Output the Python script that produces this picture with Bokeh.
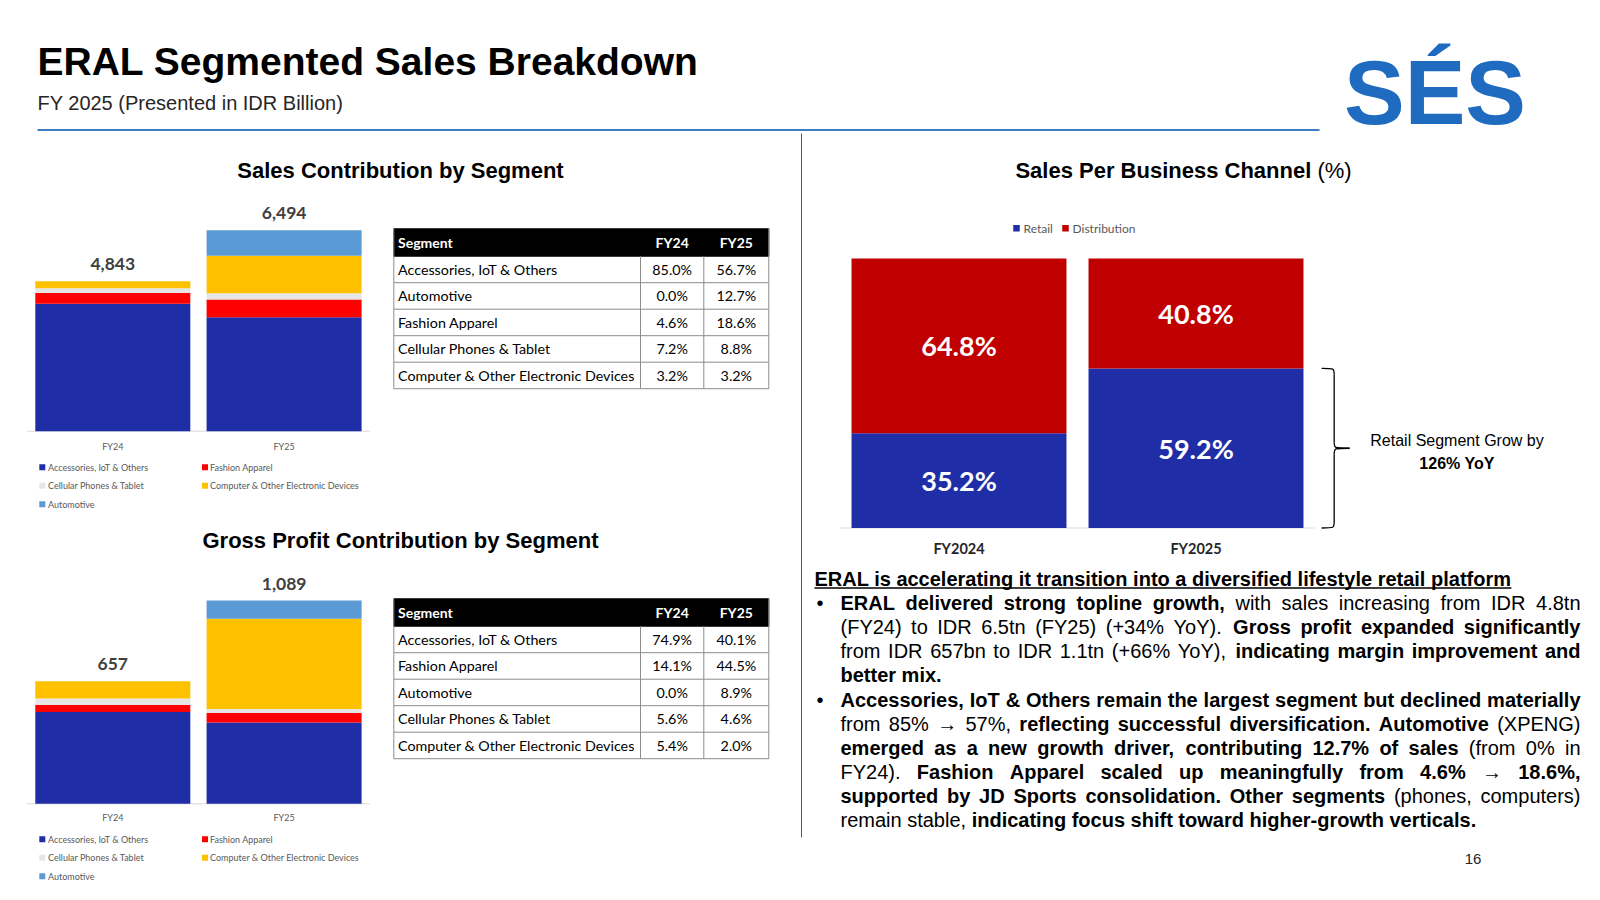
from bokeh.plotting import figure
from bokeh.models import Range1d, ColumnDataSource
from bokeh.core.properties import value
from bokeh.embed import file_html
from bokeh.resources import INLINE

# ---------------- data ----------------
years_short = ["FY24", "FY25"]
years_long = ["FY2024", "FY2025"]

seg_names = ["Accessories, IoT & Others", "Fashion Apparel", "Cellular Phones & Tablet",
             "Computer & Other Electronic Devices", "Automotive"]
seg_colors = ["#1F2DA6", "#FF0000", "#E7E6E6", "#FFC000", "#5B9BD5"]

# Sales (IDR bn), stacked bottom -> top in seg_names order
sales_acc = [4116, 3682]
sales_fashion = [349, 571]
sales_cell = [155, 208]
sales_comp = [223, 1208]
sales_auto = [0, 825]

# Gross profit (IDR bn)
gp_acc = [492, 436]
gp_fashion = [37, 50]
gp_cell = [35, 22]
gp_comp = [93, 484]
gp_auto = [0, 97]

tbl1_segments = ["Accessories, IoT & Others", "Automotive", "Fashion Apparel",
                 "Cellular Phones & Tablet", "Computer & Other Electronic Devices"]
tbl1_fy24 = [85.0, 0.0, 4.6, 7.2, 3.2]
tbl1_fy25 = [56.7, 12.7, 18.6, 8.8, 3.2]

tbl2_segments = ["Accessories, IoT & Others", "Fashion Apparel", "Automotive",
                 "Cellular Phones & Tablet", "Computer & Other Electronic Devices"]
tbl2_fy24 = [74.9, 14.1, 0.0, 5.6, 5.4]
tbl2_fy25 = [40.1, 44.5, 8.9, 4.6, 2.0]

channel_names = ["Retail", "Distribution"]
channel_colors = ["#1F2DA6", "#C00000"]
channel_retail = [35.2, 59.2]
channel_distribution = [64.8, 40.8]
retail_growth_yoy = 126

# ---------------- text metrics (Arial / Liberation Sans, per 1000 em) ----------------
def _build(groups):
    d = {}
    for w, chars in groups.items():
        for c in chars:
            d[c] = w
    return d

RW = _build({278: " !,./:;If[]t", 222: "ijl", 333: "()-r", 500: "cksvxyzJ",
             556: "abdeghnopqu0123456789L?$#", 584: "+=<>", 611: "FTZ",
             667: "ABEKPSVXY&", 722: "CDHNRUw", 778: "GOQ", 833: "Mm",
             889: "%", 944: "W", 1000: "\u2192"})
BW = _build({278: " !,./:;Iijl", 333: "()-ft", 389: "r", 500: "z",
             556: "acekvsxyJ0123456789", 584: "+", 611: "bdghnopquFTZL",
             667: "EPSVXY", 722: "ABCDHKNRU&", 778: "GOQw", 833: "M",
             889: "m%", 944: "W", 1000: "\u2192"})


def tw(s, bold, size):
    t = BW if bold else RW
    return sum(t.get(c, 556) for c in s) * size / 1000.0


# ---------------- canvas ----------------
W, H = 1600, 900
p = figure(width=W, height=H, x_range=Range1d(0, W), y_range=Range1d(H, 0),
           output_backend="svg", toolbar_location=None,
           x_axis_location=None, y_axis_location=None, min_border=0)
p.outline_line_color = None
p.background_fill_color = "white"
p.border_fill_color = "white"
p.xgrid.visible = False
p.ygrid.visible = False


def xr_map(d0, px0, d1, px1):
    k = (d1 - d0) / (px1 - px0)
    s = d0 - k * px0
    return Range1d(s, s + k * W)


def yr_map(d0, py0, d1, py1):
    h0, h1 = H - py0, H - py1
    k = (d1 - d0) / (h1 - h0)
    s = d0 - k * h0
    return Range1d(s, s + k * H)


SALES_PPU = 0.03094
GP_PPU = 0.1866
CH_PPU = 2.695
SALES_BASE, GP_BASE, CH_BASE = 430.7, 803.3, 527.5

p.extra_x_ranges = {"lx": xr_map(0, 112.3, 1, 283.6), "rx": xr_map(0, 958.5, 1, 1195.5)}
p.extra_y_ranges = {
    "sales": yr_map(0, SALES_BASE, 1000, SALES_BASE - 1000 * SALES_PPU),
    "gp": yr_map(0, GP_BASE, 1000, GP_BASE - 1000 * GP_PPU),
    "ch": yr_map(0, CH_BASE, 100, CH_BASE - 100 * CH_PPU),
}

ARIAL = value("Liberation Sans")
CAL = value("Lato")

# ---------------- header ----------------
p.text(x=[37], y=[61], text=["ERAL Segmented Sales Breakdown"], text_font=ARIAL,
       text_font_size="39px", text_font_style="bold", text_color="#000000",
       text_baseline="middle")
p.text(x=[37], y=[102], text=["FY 2025 (Presented in IDR Billion)"], text_font=ARIAL,
       text_font_size="20px", text_color="#262626", text_baseline="middle")
p.segment(x0=[37], y0=[129.5], x1=[1319], y1=[129.5], line_color="#3F7CC2", line_width=2)
p.text(x=[1434.5], y=[92], text=["SÉS"], text_font=ARIAL, text_font_size="91px",
       text_font_style="bold", text_color="#1F6BBF", text_align="center",
       text_baseline="middle")
p.segment(x0=[801], y0=[133], x1=[801], y1=[837], line_color="#595959", line_width=1)
p.text(x=[1472.5], y=[858], text=["16"], text_font=ARIAL, text_font_size="15px",
       text_color="#262626", text_align="center", text_baseline="middle")

# ---------------- chart titles ----------------
for t, cy in [("Sales Contribution by Segment", 170), ("Gross Profit Contribution by Segment", 539.5)]:
    p.text(x=[400], y=[cy], text=[t], text_font=ARIAL, text_font_size="22px",
           text_font_style="bold", text_color="#000000", text_align="center",
           text_baseline="middle")
t_b, t_r = "Sales Per Business Channel", "(%)"
wb, ws, wr = tw(t_b, True, 22), tw(" ", False, 22), tw(t_r, False, 22)
x_start = 1183 - (wb + ws + wr) / 2
p.text(x=[x_start], y=[170], text=[t_b], text_font=ARIAL, text_font_size="22px",
       text_font_style="bold", text_color="#000000", text_baseline="middle")
p.text(x=[x_start + wb + ws], y=[170], text=[t_r], text_font=ARIAL, text_font_size="22px",
       text_color="#000000", text_baseline="middle")


# ---------------- segment stacked charts ----------------
def segment_chart(series, yname, ppu, cat_off, legend_y0):
    keys = ["s%d" % i for i in range(len(series))]
    data = {"x": [0, 1]}
    for k, v in zip(keys, series):
        data[k] = v
    src = ColumnDataSource(data)
    p.segment(x0=[-0.5], y0=[0], x1=[1.5], y1=[0], x_range_name="lx", y_range_name=yname,
              line_color="#D9D9D9", line_width=1)
    p.vbar_stack(keys, x="x", width=0.905, color=seg_colors, source=src,
                 x_range_name="lx", y_range_name=yname, line_color=None)
    totals = [sum(v[i] for v in series) for i in range(2)]
    p.text(x=[0, 1], y=[t + 17.0 / ppu for t in totals], text=["{:,}".format(t) for t in totals],
           x_range_name="lx", y_range_name=yname, text_font=CAL, text_font_size="17.5px",
           text_font_style="bold", text_color="#404040", text_align="center",
           text_baseline="middle")
    p.text(x=[0, 1], y=[-cat_off / ppu] * 2, text=years_short, x_range_name="lx",
           y_range_name=yname, text_font=CAL, text_font_size="9px", text_color="#595959",
           text_align="center", text_baseline="middle")
    # legend (2 columns, row-major)
    mx, my, tx, ty = [], [], [], []
    for i, name in enumerate(seg_names):
        r, c = divmod(i, 2)
        yy = legend_y0 + r * 18.5
        mx.append([41.8, 204.5][c])
        my.append(yy)
        tx.append([47.5, 209.5][c])
        ty.append(yy)
    p.scatter(x=mx, y=my, marker="square", size=6, color=seg_colors, line_color=None)
    p.text(x=tx, y=ty, text=seg_names, text_font=CAL, text_font_size="9px",
           text_color="#595959", text_baseline="middle")


segment_chart([sales_acc, sales_fashion, sales_cell, sales_comp, sales_auto], "sales",
              SALES_PPU, 15.0, 466.7)
segment_chart([gp_acc, gp_fashion, gp_cell, gp_comp, gp_auto], "gp", GP_PPU, 14.0, 838.7)


# ---------------- tables ----------------
def table(top, segs, a, b):
    x0, c1, c2, x1 = 393.3, 640.0, 703.3, 768.3
    hh, rh = 27.4, 26.5
    n = len(segs)
    bottom = top + hh + n * rh
    p.quad(left=[x0], right=[x1], top=[top], bottom=[top + hh], color="#000000")
    hy = [top + hh + k * rh for k in range(1, n + 1)]
    p.segment(x0=[x0] * n, x1=[x1] * n, y0=hy, y1=hy, line_color="#8C8C8C", line_width=1)
    vx = [x0, c1, c2, x1]
    p.segment(x0=vx, x1=vx, y0=[top + hh] * 4, y1=[bottom] * 4, line_color="#8C8C8C",
              line_width=1)
    p.segment(x0=[x0, x1], x1=[x0, x1], y0=[top] * 2, y1=[top + hh] * 2,
              line_color="#8C8C8C", line_width=1)
    hc = top + hh / 2
    p.text(x=[397.5], y=[hc], text=["Segment"], text_font=CAL, text_font_size="14px",
           text_font_style="bold", text_color="white", text_baseline="middle")
    p.text(x=[(c1 + c2) / 2, (c2 + x1) / 2], y=[hc, hc], text=["FY24", "FY25"], text_font=CAL,
           text_font_size="14px", text_font_style="bold", text_color="white",
           text_align="center", text_baseline="middle")
    ry = [top + hh + (k + 0.5) * rh for k in range(n)]
    p.text(x=[397.5] * n, y=ry, text=segs, text_font=CAL, text_font_size="14.3px",
           text_color="#000000", text_baseline="middle")
    p.text(x=[(c1 + c2) / 2] * n, y=ry, text=["%.1f%%" % v for v in a], text_font=CAL,
           text_font_size="14.3px", text_color="#000000", text_align="center",
           text_baseline="middle")
    p.text(x=[(c2 + x1) / 2] * n, y=ry, text=["%.1f%%" % v for v in b], text_font=CAL,
           text_font_size="14.3px", text_color="#000000", text_align="center",
           text_baseline="middle")


table(228.3, tbl1_segments, tbl1_fy24, tbl1_fy25)
table(598.3, tbl2_segments, tbl2_fy24, tbl2_fy25)

# ---------------- channel chart ----------------
csrc = ColumnDataSource(dict(x=[0, 1], retail=channel_retail, dist=channel_distribution))
p.segment(x0=[-0.5], y0=[0], x1=[1.5], y1=[0], x_range_name="rx", y_range_name="ch",
          line_color="#D9D9D9", line_width=1)
p.vbar_stack(["retail", "dist"], x="x", width=0.907, color=channel_colors, source=csrc,
             x_range_name="rx", y_range_name="ch", line_color=None)
lab_y = [r / 2 for r in channel_retail] + [r + d / 2 for r, d in zip(channel_retail, channel_distribution)]
lab_t = ["%.1f%%" % v for v in channel_retail + channel_distribution]
p.text(x=[0, 1, 0, 1], y=lab_y, text=lab_t, x_range_name="rx", y_range_name="ch",
       text_font=CAL, text_font_size="27px", text_font_style="bold", text_color="white",
       text_align="center", text_baseline="middle")
p.text(x=[0, 1], y=[-20.8 / CH_PPU] * 2, text=years_long, x_range_name="rx", y_range_name="ch",
       text_font=CAL, text_font_size="14.5px", text_font_style="bold", text_color="#262626",
       text_align="center", text_baseline="middle")
# legend
p.scatter(x=[1016, 1065], y=[227.7, 227.7], marker="square", size=6.5, color=channel_colors,
          line_color=None)
p.text(x=[1023, 1072], y=[227.7, 227.7], text=channel_names, text_font=CAL,
       text_font_size="12px", text_color="#595959", text_baseline="middle")

# brace along FY2025 retail bar
yt, yb = channel_retail[1], 0.0
ym = (yt + yb) / 2
r = 6.0 / CH_PPU
xa, xs, xt = 1.53, 1.583, 1.648
p.bezier(x0=[xa, xs, xt, xs], y0=[yt, ym + r, ym, yb + r],
         x1=[xs, xt, xs, xa], y1=[yt - r, ym, ym - r, yb],
         cx0=[xs, xs, xs, xs], cy0=[yt, ym, ym, yb],
         cx1=[xs, xs, xs, xs], cy1=[yt, ym, ym, yb],
         x_range_name="rx", y_range_name="ch", line_color="#000000", line_width=1.3)
p.segment(x0=[xs, xs], y0=[yt - r, ym - r], x1=[xs, xs], y1=[ym + r, yb + r],
          x_range_name="rx", y_range_name="ch", line_color="#000000", line_width=1.3)
p.text(x=[1456.5], y=[440], text=["Retail Segment Grow by"], text_font=ARIAL,
       text_font_size="16px", text_color="#000000", text_align="center", text_baseline="middle")
p.text(x=[1456.5], y=[462.5], text=["%d%% YoY" % retail_growth_yoy], text_font=ARIAL,
       text_font_size="16px", text_font_style="bold", text_color="#000000",
       text_align="center", text_baseline="middle")

# ---------------- commentary text (justified) ----------------
heading = "ERAL is accelerating it transition into a diversified lifestyle retail platform"
para_lines = [
    ([("ERAL delivered strong topline growth,", True), ("with sales increasing from IDR 4.8tn", False)], True, True),
    ([("(FY24) to IDR 6.5tn (FY25) (+34% YoY).", False), ("Gross profit expanded significantly", True)], True, False),
    ([("from IDR 657bn to IDR 1.1tn (+66% YoY),", False), ("indicating margin improvement and", True)], True, False),
    ([("better mix.", True)], False, False),
    ([("Accessories, IoT & Others remain the largest segment but declined materially", True)], True, True),
    ([("from 85% \u2192 57%,", False), ("reflecting successful diversification.", True), ("Automotive", True), ("(XPENG)", False)], True, False),
    ([("emerged as a new growth driver, contributing 12.7% of sales", True), ("(from 0% in", False)], True, False),
    ([("FY24).", False), ("Fashion Apparel scaled up meaningfully from 4.6% \u2192 18.6%,", True)], True, False),
    ([("supported by JD Sports consolidation.", True), ("Other segments", True), ("(phones, computers)", False)], True, False),
    ([("remain stable,", False), ("indicating focus shift toward higher-growth verticals.", True)], False, False),
]

FS = 20
LEFT, RIGHT = 840.0, 1580.0
CY0, STEP = 578.6, 24.08

p.text(x=[814], y=[CY0], text=[heading], text_font=ARIAL, text_font_size="%dpx" % FS,
       text_font_style="bold", text_color="#000000", text_baseline="middle")
p.segment(x0=[814], x1=[814 + tw(heading, True, FS)], y0=[CY0 + 9], y1=[CY0 + 9],
          line_color="#000000", line_width=1.5)

reg = dict(x=[], y=[], t=[])
bld = dict(x=[], y=[], t=[])
bullets_y = []
for i, (runs, justify, bullet) in enumerate(para_lines):
    yc = CY0 + STEP * (i + 1)
    if bullet:
        bullets_y.append(yc)
    words = []
    for txt, b in runs:
        for w in txt.split():
            words.append((w, b))
    widths = [tw(w, b, FS) for w, b in words]
    if justify and len(words) > 1:
        gap = (RIGHT - LEFT - sum(widths)) / (len(words) - 1)
    else:
        gap = 278 * FS / 1000.0
    x = LEFT
    for (w, b), wd in zip(words, widths):
        d = bld if b else reg
        d["x"].append(x)
        d["y"].append(yc)
        d["t"].append(w)
        x += wd + gap

p.text(x="x", y="y", text="t", source=ColumnDataSource(reg), text_font=ARIAL,
       text_font_size="%dpx" % FS, text_color="#000000", text_baseline="middle")
p.text(x="x", y="y", text="t", source=ColumnDataSource(bld), text_font=ARIAL,
       text_font_size="%dpx" % FS, text_font_style="bold", text_color="#000000",
       text_baseline="middle")
p.text(x=[819.5] * len(bullets_y), y=bullets_y, text=["\u2022"] * len(bullets_y), text_font=ARIAL,
       text_font_size="%dpx" % FS, text_color="#000000", text_align="center",
       text_baseline="middle")

open("out.html", "w").write(file_html(p, INLINE))
